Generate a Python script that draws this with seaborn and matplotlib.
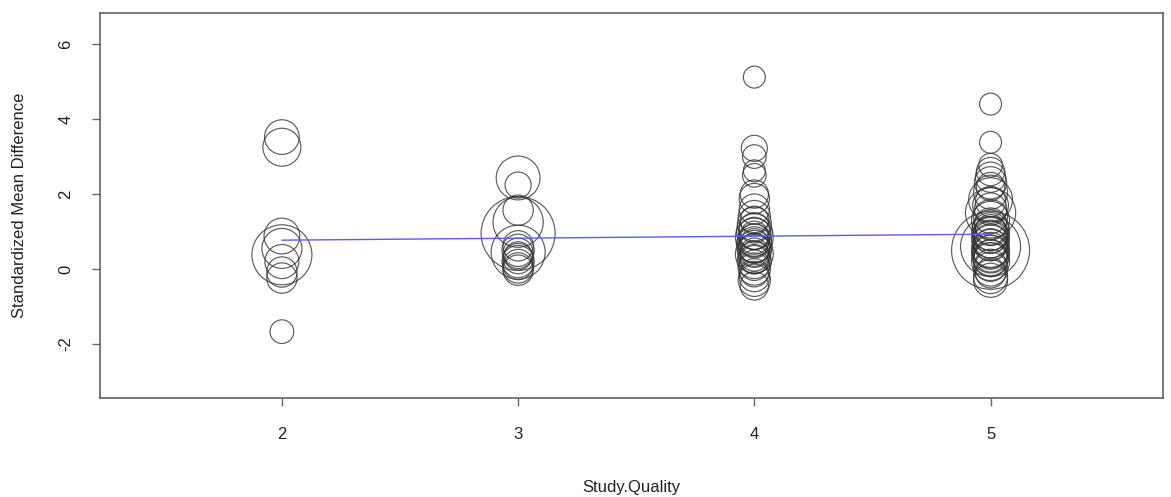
import matplotlib
matplotlib.use("Agg")
import matplotlib.pyplot as plt
import numpy as np
import pandas as pd
import seaborn as sns

# ---- data ----
q2_smd = [3.52, 3.25, 0.88, 0.55, 0.38, 0.20, -0.08, -0.24, -1.67]
q2_w = [3.0, 3.6, 3.2, 4.0, 9.0, 2.9, 2.3, 2.3, 1.4]

q3_smd = [2.43, 2.24, 1.57, 1.25, 0.95, 0.45, 0.62, 0.50, 0.42, 0.35, 0.28, 0.20, 0.12, 0.03, -0.03]
q3_w = [4.8, 1.7, 2.3, 6.3, 13.7, 7.3, 2.3, 2.6, 2.3, 2.0, 2.3, 2.6, 2.3, 2.3, 2.3]

q4_smd = [5.12, 3.22, 3.00, 2.62, 2.50, 2.00, 1.88, 1.60, 1.40, 1.30, 1.20, 1.10, 1.00,
          0.95, 0.90, 0.85, 0.80, 0.75, 0.70, 0.65, 0.60, 0.55, 0.50, 0.45, 0.40,
          0.35, 0.30, 0.25, 0.20, 0.10, 0.00, -0.10, -0.20, -0.30, -0.45]
q4_w = [1.2, 1.7, 1.4, 1.2, 1.4, 2.0, 2.3, 2.3, 2.6, 2.0, 2.9, 2.3, 3.2,
        2.6, 2.0, 3.6, 2.3, 2.9, 2.0, 3.2, 2.6, 2.3, 2.9, 2.0, 3.6,
        2.3, 2.6, 2.0, 2.9, 2.3, 2.6, 2.0, 2.3, 2.6, 2.0]

q5_smd = [4.40, 3.38, 2.77, 2.60, 2.45, 2.30, 2.20, 2.05, 1.85, 1.80, 1.70, 1.60, 1.50,
          1.40, 1.30, 1.20, 1.10, 1.05, 1.00, 0.95, 0.90, 0.85, 0.80, 0.75, 0.70,
          0.65, 0.60, 0.55, 0.50, 0.50, 0.45, 0.40, 0.35, 0.30, 0.25, 0.20, 0.10,
          0.00, -0.10, -0.20, -0.30]
q5_w = [1.2, 1.2, 1.4, 2.0, 2.3, 2.6, 2.0, 2.9, 4.8, 2.3, 3.2, 2.6, 6.3,
        2.9, 3.6, 2.6, 3.2, 2.3, 3.6, 2.9, 3.2, 2.6, 3.6, 2.9, 3.2,
        2.6, 9.0, 3.6, 15.2, 3.2, 2.9, 3.6, 2.6, 3.2, 2.9, 3.6, 2.6,
        2.9, 2.3, 2.9, 2.9]

x_ticks = [2, 3, 4, 5]
y_ticks = [-2, 0, 2, 4, 6]

# meta-regression line
fit_x = [2, 5]
fit_y = [0.77, 0.93]

# ---- build table ----
df = pd.concat([
    pd.DataFrame({"Study.Quality": q, "SMD": s, "w": w})
    for q, s, w in [(2, q2_smd, q2_w), (3, q3_smd, q3_w), (4, q4_smd, q4_w), (5, q5_smd, q5_w)]
], ignore_index=True)

sns.set_style("white")
plt.rcParams["font.family"] = ["Liberation Sans", "DejaVu Sans"]

W, H = 1171, 497
fig = plt.figure(figsize=(W / 100, H / 100), dpi=100)
ax = fig.add_axes([100 / W, 99 / H, 1063 / W, 385 / H])

k = 207.36  # points^2 per weight unit
wmin, wmax = df["w"].min(), df["w"].max()
sns.scatterplot(data=df, x="Study.Quality", y="SMD", size="w",
                sizes=(k * wmin, k * wmax), size_norm=(wmin, wmax),
                facecolors="none", edgecolor="#333333", linewidth=0.85,
                legend=False, ax=ax)
for c in ax.collections:
    c.set_facecolor("none")
    c.set_edgecolor("#333333")
    c.set_alpha(0.8)

sns.lineplot(x=fit_x, y=fit_y, color="#5a5aff", linewidth=1.0, ax=ax)

ax.set_xlim(1.23, 5.73)
ax.set_ylim(-3.44, 6.83)
ax.set_xticks(x_ticks)
ax.set_yticks(y_ticks)
ax.set_xticklabels([str(v) for v in x_ticks])
ax.set_yticklabels([str(v) for v in y_ticks], rotation=90, va="center")

for sp in ax.spines.values():
    sp.set_visible(True)
    sp.set_color("#555555")
    sp.set_linewidth(1.1)

ax.tick_params(axis="both", direction="out", length=6, width=1.0, color="#666666",
               labelsize=12, labelcolor="#222222", bottom=True, left=True)
ax.tick_params(axis="x", pad=15)
ax.tick_params(axis="y", pad=13)

ax.set_xlabel("Study.Quality", fontsize=12, color="#222222")
ax.set_ylabel("Standardized Mean Difference", fontsize=12, color="#222222")
ax.xaxis.set_label_coords(0.5, -0.212)
ax.yaxis.set_label_coords(-0.069, 0.5)

fig.savefig("out.png", dpi=100, facecolor="white")
